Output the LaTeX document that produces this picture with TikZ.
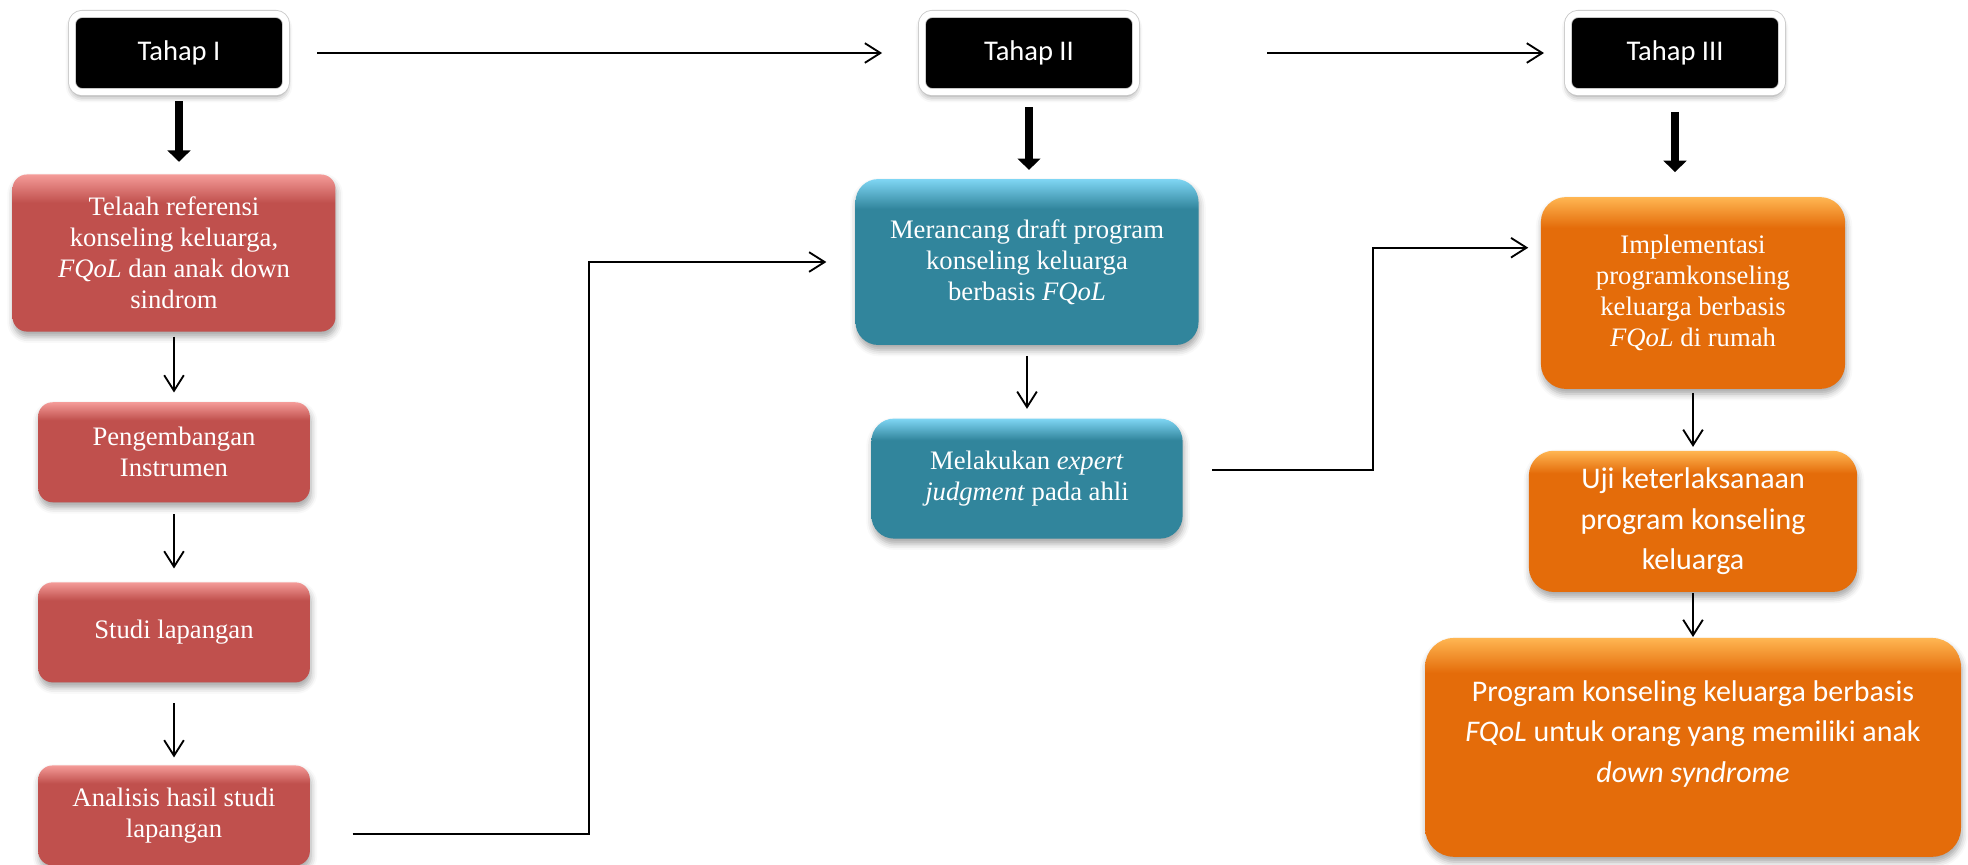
\documentclass[tikz,border=0pt]{standalone}
\usepackage{fontspec}
\setmainfont{Liberation Serif}
\newfontfamily\calibrifont{Carlito}
\usetikzlibrary{arrows.meta, positioning, shadows.blur}

\definecolor{redmain}{HTML}{C0504D}
\definecolor{redlight}{HTML}{F49B98}
\definecolor{tealmain}{HTML}{31859C}
\definecolor{teallight}{HTML}{7FD6F4}
\definecolor{orangemain}{HTML}{E46C0A}
\definecolor{orangelight}{HTML}{FFB652}

% glossy top edge for the boxes
\pgfdeclareverticalshading{redglow}{100bp}{color(0bp)=(redmain); color(25bp)=(redmain); color(66bp)=(redmain); color(75bp)=(redlight); color(100bp)=(redlight)}
\pgfdeclareverticalshading{tealglow}{100bp}{color(0bp)=(tealmain); color(25bp)=(tealmain); color(66bp)=(tealmain); color(75bp)=(teallight); color(100bp)=(teallight)}
\pgfdeclareverticalshading{orangeglow}{100bp}{color(0bp)=(orangemain); color(25bp)=(orangemain); color(67bp)=(orangemain); color(75bp)=(orangelight); color(100bp)=(orangelight)}

\newcommand{\tahapfont}{\calibrifont\fontsize{13.8}{16.5}\selectfont}
\newcommand{\boxfont}{\fontsize{12.9}{15}\selectfont}
\newcommand{\calboxfont}{\calibrifont\fontsize{14.5}{19.6}\selectfont}

\begin{document}
\begin{tikzpicture}[
  x = 0.017cm, y = -0.017cm,                      % one unit per pixel, y downwards
  > = {Straight Barb[length=7.5pt,width=9.5pt]},  % open arrow head
  line width = 0.9pt                              % thin connectors
  ]

  \useasboundingbox (0,0) rectangle (1968,864);

  \tikzstyle{tahap}=[      % black stage label in a white frame
  rectangle, rounded corners = 5pt,
  fill = black, draw = black!22, line width = 0.4pt,
  double = white, double distance = 3pt,
  minimum width = 3.64cm, minimum height = 1.33cm,
  text = white, font = \tahapfont,
  blur shadow = {shadow xshift=0pt, shadow yshift=-2pt, shadow blur radius=3pt, shadow opacity=45}
  ]

  \tikzstyle{box}=[        % glossy box, white text
  rectangle, shade, text = white, align = center,
  inner sep = 2pt, font = \boxfont,
  blur shadow = {shadow xshift=0.5pt, shadow yshift=-2.5pt, shadow blur radius=3pt, shadow opacity=35}
  ]
  \tikzstyle{redbox}=[box, shading = redglow, rounded corners = 7pt]
  \tikzstyle{tealbox}=[box, shading = tealglow, rounded corners = 11pt]
  \tikzstyle{orangebox}=[box, shading = orangeglow, rounded corners = 12pt]

  \tikzstyle{bigarrow}=[   % thick arrow below a stage
  line width = 4pt, -{Triangle[length=5.5pt,width=11pt]}
  ]

  % Stages
  \node[tahap] (t1) at (179,53) {Tahap I};
  \node[tahap] (t2) at (1029,53) {Tahap II};
  \node[tahap] (t3) at (1675,53) {Tahap III};

  % Tahap I
  \node[redbox, minimum width=5.49cm, minimum height=2.67cm] (telaah) at (174,253)
    {Telaah referensi\\konseling keluarga,\\\textit{FQoL} dan anak down\\sindrom};
  \node[redbox, minimum width=4.62cm, minimum height=1.70cm] (pengembangan) [below=1.17cm of telaah]
    {Pengembangan\\Instrumen};
  \node[redbox, minimum width=4.62cm, minimum height=1.70cm] (studi) [below=1.33cm of pengembangan]
    {Studi lapangan};
  \node[redbox, minimum width=4.62cm, minimum height=1.70cm] (analisis) [below=1.38cm of studi]
    {Analisis hasil studi\\lapangan};

  % Tahap II
  \node[tealbox, minimum width=5.83cm, minimum height=2.82cm] (merancang) at (1027,262)
    {Merancang draft program\\konseling keluarga\\berbasis \textit{FQoL}};
  \node[tealbox, minimum width=5.29cm, minimum height=2.04cm] (melakukan) [below=1.22cm of merancang]
    {Melakukan \textit{expert}\\\textit{judgment} pada ahli};

  % Tahap III
  \node[orangebox, minimum width=5.17cm, minimum height=3.26cm] (implementasi) at (1693,293)
    {Implementasi\\programkonseling\\keluarga berbasis\\\textit{FQoL} di rumah};
  \node[orangebox, font=\calboxfont, minimum width=5.58cm, minimum height=2.40cm] (uji) [below=1.02cm of implementasi]
    {Uji keterlaksanaan\\program konseling\\keluarga};
  \node[orangebox, font=\calboxfont, rounded corners=14pt, minimum width=9.11cm, minimum height=3.72cm] (program) [below=0.75cm of uji]
    {Program konseling keluarga berbasis\\\textit{FQoL} untuk orang yang memiliki anak\\\textit{down syndrome}\\[-4pt]~};

  % bends of the long connectors
  \coordinate (bend1) at ([xshift=-4.52cm]merancang.west);
  \coordinate (bend2) at ([xshift=-2.84cm,yshift=0.77cm]implementasi.west);

  % Connectors
  \path[->] (t1) edge[shorten <=0.52cm, shorten >=0.67cm] (t2);
  \path[->] (t2) edge[shorten <=2.22cm, shorten >=0.40cm] (t3);

  \path[bigarrow] (t1) edge[shorten <=0.15cm, shorten >=0.20cm] (t1 |- telaah.north);
  \path[bigarrow] (t2) edge[shorten <=0.25cm, shorten >=0.14cm] (t2 |- merancang.north);
  \path[bigarrow] (t3) edge[shorten <=0.33cm, shorten >=0.41cm] (t3 |- implementasi.north);

  \path[->] (telaah) edge[shorten <=0.07cm, shorten >=0.15cm] (pengembangan);
  \path[->] (pengembangan) edge[shorten <=0.19cm, shorten >=0.22cm] (studi);
  \path[->] (studi) edge[shorten <=0.34cm, shorten >=0.12cm] (analisis);

  \path[->] (merancang) edge[shorten <=0.17cm, shorten >=0.15cm] (melakukan);

  \path[->] (implementasi) edge[shorten <=0.05cm, shorten >=0.05cm] (uji);
  \path[->] (uji) edge (program);

  \draw[->] ([xshift=0.71cm,yshift=-0.32cm]analisis.east) -| (bend1) -- ([xshift=-0.48cm]merancang.west);
  \draw[->] ([xshift=0.49cm,yshift=0.14cm]melakukan.east) -| (bend2) -- ([xshift=-0.2cm,yshift=0.77cm]implementasi.west);
\end{tikzpicture}
\end{document}
